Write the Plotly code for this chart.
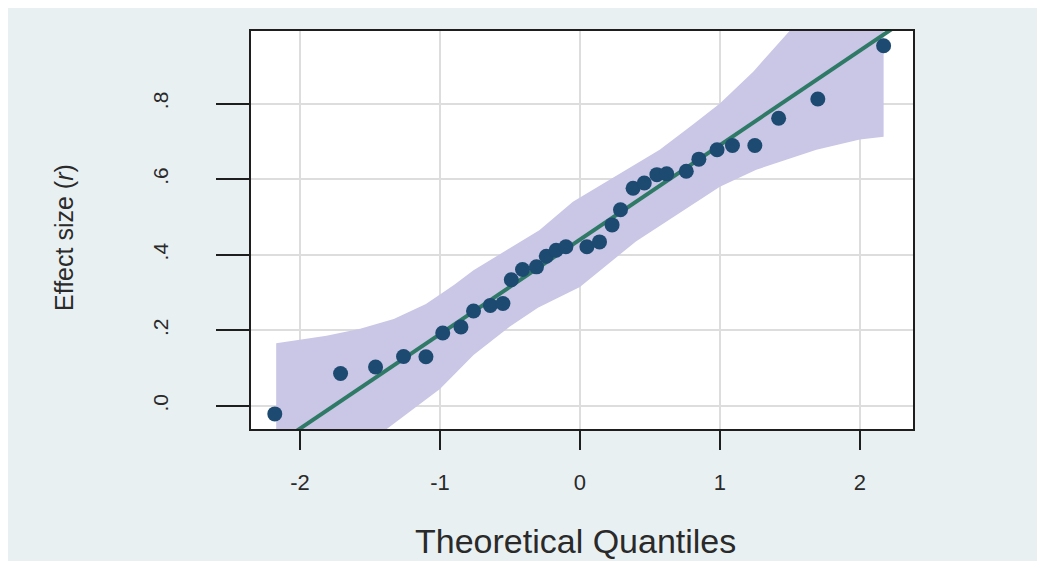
import plotly.graph_objects as go

# ---- data ----
theoretical_q = [-2.18, -1.71, -1.46, -1.26, -1.10, -0.98, -0.85, -0.76, -0.64, -0.55,
                 -0.49, -0.41, -0.31, -0.24, -0.17, -0.10, 0.05, 0.14, 0.23, 0.29,
                 0.38, 0.46, 0.55, 0.62, 0.76, 0.85, 0.98, 1.09, 1.25, 1.42, 1.70, 2.17]
effect_r = [-0.021, 0.086, 0.103, 0.131, 0.130, 0.193, 0.209, 0.251, 0.266, 0.271,
            0.334, 0.361, 0.368, 0.396, 0.412, 0.421, 0.421, 0.434, 0.479, 0.519,
            0.576, 0.590, 0.612, 0.614, 0.621, 0.653, 0.678, 0.689, 0.689, 0.761, 0.812, 0.953]

band_upper_q = [-2.17, -1.81, -1.57, -1.33, -1.10, -0.90, -0.76, -0.52, -0.29, -0.05,
                0.21, 0.57, 0.81, 1.00, 1.24, 1.48, 2.17]
band_upper_r = [0.166, 0.186, 0.204, 0.230, 0.270, 0.320, 0.359, 0.412, 0.465, 0.540,
                0.598, 0.678, 0.745, 0.800, 0.885, 0.985, 1.250]
band_lower_q = [-2.17, -1.38, -1.00, -0.76, -0.50, -0.30, 0.00, 0.40, 1.00, 1.26, 1.69, 2.00, 2.17]
band_lower_r = [-0.270, -0.061, 0.045, 0.135, 0.210, 0.260, 0.315, 0.435, 0.580, 0.625, 0.678, 0.705, 0.712]

line_intercept = 0.44
line_slope = 0.25
line_q = [-2.35, 2.38]

x_ticks = [-2, -1, 0, 1, 2]
x_ticklabels = ["-2", "-1", "0", "1", "2"]
y_ticks = [0.0, 0.2, 0.4, 0.6, 0.8]
y_ticklabels = [".0", ".2", ".4", ".6", ".8"]

x_title = "Theoretical Quantiles"
y_title = "Effect size (<i>r</i>)"

# ---- figure (page body adds an 8px offset) ----
OFF = 8
W, H = 1029, 553
ML, MT = 251 - OFF, 31 - OFF
MR = W - (913 - OFF)
MB = H - (429 - OFF)
PW, PH = W - ML - MR, H - MT - MB


def xp(px):
    return (px - OFF - ML) / PW


def yp(py):
    return (H - MB - (py - OFF)) / PH


fig = go.Figure()

band_q = band_upper_q + band_lower_q[::-1]
band_r = band_upper_r + band_lower_r[::-1]
fig.add_trace(go.Scatter(x=band_q, y=band_r, mode="lines", fill="toself",
                         fillcolor="#c9c6e6", line=dict(width=0, color="#c9c6e6"),
                         hoverinfo="skip", showlegend=False))

line_r = [line_intercept + line_slope * q for q in line_q]
fig.add_trace(go.Scatter(x=line_q, y=line_r, mode="lines",
                         line=dict(color="#2e7a66", width=4), showlegend=False))

fig.add_trace(go.Scatter(x=theoretical_q, y=effect_r, mode="markers",
                         marker=dict(color="#1d4a70", size=15), showlegend=False))

font_main = "Liberation Sans, Arial, sans-serif"

fig.update_layout(
    width=W, height=H,
    margin=dict(l=ML, r=MR, t=MT, b=MB, autoexpand=False),
    paper_bgcolor="#e9f0f2",
    plot_bgcolor="#ffffff",
    showlegend=False,
    font=dict(family=font_main, color="#2a2a2a"),
    xaxis=dict(range=[-2.35, 2.38], tickvals=x_ticks, ticktext=x_ticklabels,
               showgrid=True, gridcolor="#dddddd", gridwidth=2, zeroline=False,
               showline=True, linecolor="#1e1e1e", linewidth=2, mirror=True,
               ticks="outside", ticklen=19, tickwidth=2, tickcolor="#1e1e1e",
               tickfont=dict(size=22, color="#2a2a2a", family=font_main),
               ticklabelstandoff=14, automargin=False),
    yaxis=dict(range=[-0.061, 0.992], tickvals=y_ticks, ticktext=y_ticklabels,
               showgrid=True, gridcolor="#dddddd", gridwidth=2, zeroline=False,
               showline=True, linecolor="#1e1e1e", linewidth=2, mirror=True,
               ticks="outside", ticklen=33, tickwidth=2, tickcolor="#1e1e1e",
               tickangle=-90,
               tickfont=dict(size=21, color="#2a2a2a", family=font_main),
               ticklabelstandoff=40, automargin=False),
    annotations=[
        dict(text=x_title, xref="paper", yref="paper", x=xp(575), y=yp(541),
             xanchor="center", yanchor="middle", showarrow=False,
             font=dict(size=34, color="#2a2a2a", family=font_main)),
        dict(text=y_title, xref="paper", yref="paper", x=xp(64), y=yp(238),
             xanchor="center", yanchor="middle", showarrow=False, textangle=-90,
             font=dict(size=25, color="#2a2a2a", family=font_main)),
    ],
)

fig.write_html("out.html")
